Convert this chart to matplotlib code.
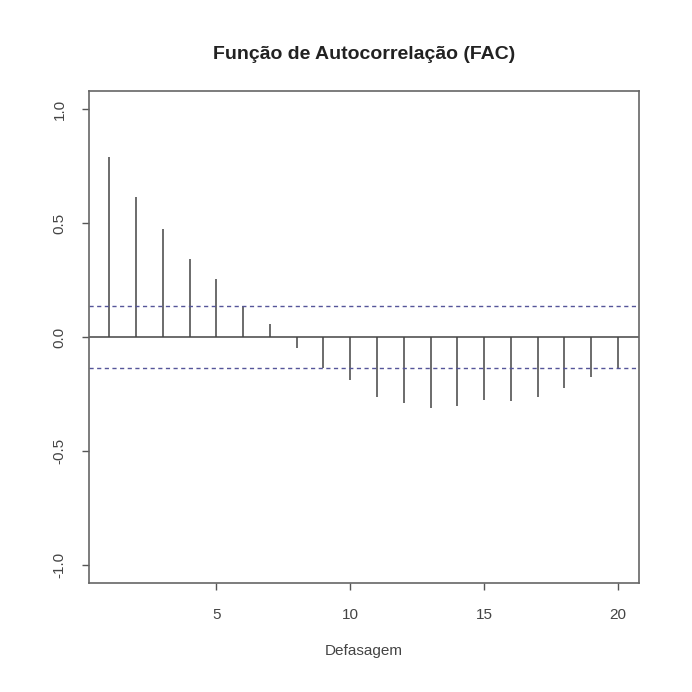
import numpy as np
import matplotlib.pyplot as plt

plt.rcParams.update({
    "font.family": ["Liberation Sans", "DejaVu Sans"],
    "font.size": 11,
})

# ACF values (lags 1..20)
lags = list(range(1, 21))
acf_vals = [0.79, 0.615, 0.474, 0.342, 0.253, 0.137, 0.057, -0.048, -0.137, -0.189,
            -0.262, -0.288, -0.310, -0.303, -0.276, -0.279, -0.264, -0.222, -0.177, -0.135]
ci = 0.137
x_ticks = [5, 10, 15, 20]
y_ticks = [-1.0, -0.5, 0.0, 0.5, 1.0]

fig = plt.figure(figsize=(6.92, 6.92), dpi=100)
ax = fig.add_axes([89 / 692, 109 / 692, 550 / 692, 492 / 692])

ax.vlines(lags, 0, acf_vals, color="#444444", linewidth=1.1)
ax.axhline(0, color="#444444", linewidth=1.1)
ax.axhline(ci, color="#555599", linestyle=(0, (3, 2.5)), linewidth=1.0)
ax.axhline(-ci, color="#555599", linestyle=(0, (3, 2.5)), linewidth=1.0)

ax.set_xlim(0.24, 20.79)
ax.set_ylim(-1.08, 1.08)
ax.set_xticks(x_ticks)
ax.set_yticks(y_ticks)
ax.set_yticklabels([f"{v:.1f}" for v in y_ticks], rotation=90, va="center")
ax.tick_params(colors="#555555", labelcolor="#444444", length=5, width=1.0)
ax.tick_params(axis="x", pad=13)
ax.tick_params(axis="y", pad=11)
for s in ax.spines.values():
    s.set_color("#666666")
    s.set_linewidth(1.2)

ax.set_xlabel("Defasagem", color="#444444", labelpad=16)
ax.set_title("Função de Autocorrelação (FAC)", fontweight="bold", fontsize=14,
             color="#222222", pad=23)

fig.savefig("out.png", dpi=100, facecolor="white")
